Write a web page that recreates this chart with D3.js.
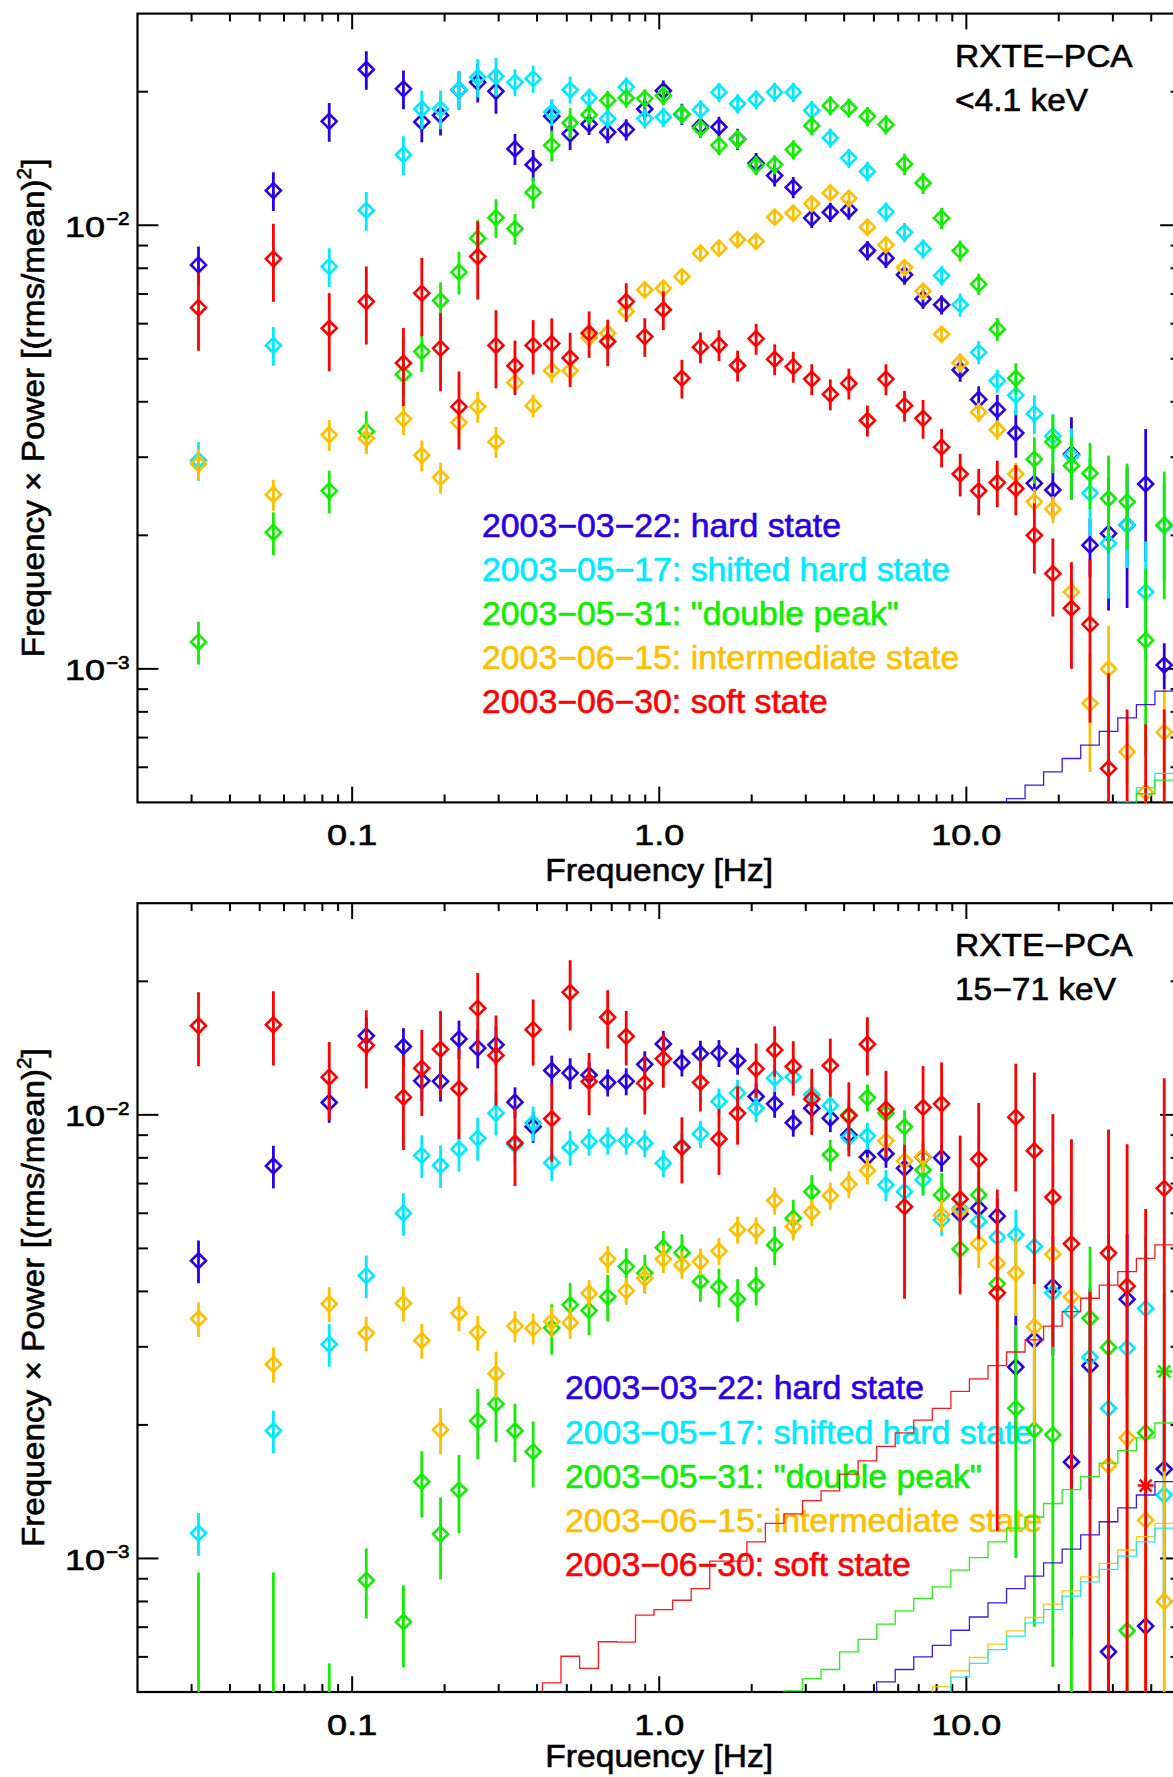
<!DOCTYPE html>
<html>
<head>
<meta charset="utf-8">
<script src="https://cdn.jsdelivr.net/npm/d3@7"></script>
<style>
  body { margin: 0; background: #fff; }
  svg { display: block; }
  text { font-family: "Liberation Sans", Arial, Helvetica, sans-serif; }
</style>
</head>
<body>
<script>
var W = 1173, H = 1777;

// bin frequencies [Hz]
var freq = [0.0316, 0.0554, 0.0842, 0.1112, 0.1469, 0.1686, 0.194, 0.2228, 0.2564, 0.294,
  0.339, 0.3885, 0.4467, 0.5126, 0.591, 0.6794, 0.7806, 0.8973, 1.031, 1.185,
  1.362, 1.565, 1.799, 2.067, 2.376, 2.731, 3.138, 3.606, 4.144, 4.763,
  5.473, 6.29, 7.228, 8.307, 9.546, 10.97, 12.61, 14.49, 16.65, 19.13,
  21.99, 25.27, 29.04, 33.38, 38.36, 44.09];

var labels = ["2003\u221203\u221222: hard state", "2003\u221205\u221217: shifted hard state",
  "2003\u221205\u221231: \"double peak\"", "2003\u221206\u221215: intermediate state",
  "2003\u221206\u221230: soft state"];
var colors = ["#2a00e6", "#00eaff", "#11ee00", "#ffbf00", "#ff0000"];

var xTicks = [0.1, 1, 10];
var xTickText = ["0.1", "1.0", "10.0"];
var yTicks = [1e-3, 1e-2];
var yTickExp = ["\u22123", "\u22122"];

// ---- <4.1 keV : frequency x power, relative errors
var lowHard = [0.00814,0.01197,0.01715,0.02244,0.0203,0.0171,0.0177,0.0202,0.021,0.02004,
  0.01486,0.01369,0.0176,0.01607,0.0169,0.0162,0.01643,0.01828,0.0201,0.0178,
  0.01671,0.01665,0.01564,0.0138,0.01294,0.01217,0.01038,0.0107,0.01083,0.00877,
  0.00843,0.00773,0.00682,0.00662,0.00472,0.00405,0.00384,0.0034,0.00262,0.00253,
  0.00305,0.0019,0.00202,0.00211,0.00261,0.00102];
var lowHardErr = [0.1,0.1,0.1,0.1,0.1,0.1,0.1,0.1,0.1,0.11,
  0.08,0.08,0.08,0.08,0.055,0.055,0.055,0.055,0.055,0.055,
  0.055,0.055,0.055,0.055,0.055,0.055,0.05,0.05,0.05,0.05,
  0.05,0.05,0.05,0.05,0.06,0.07,0.08,0.12,0.12,0.14,
  0.21,0.15,0.33,0.35,0.33,0.12];

var lowShift = [0.00295,0.00536,0.00807,0.0108,0.01442,0.01828,0.0183,0.0202,0.02156,0.02167,
  0.021,0.0214,0.018,0.0202,0.01936,0.01739,0.0205,0.0174,0.01754,0.0178,
  0.01822,0.01995,0.01879,0.0192,0.01995,0.01995,0.01815,0.01573,0.01417,0.01322,
  0.01072,0.00964,0.00885,0.0077,0.00662,0.00517,0.00446,0.00414,0.00376,0.00335,
  0.00303,0.00249,0.00192,0.00211,0.00149,0.0021];
var lowShiftErr = [0.1,0.1,0.1,0.1,0.1,0.1,0.1,0.1,0.1,0.1,
  0.07,0.07,0.07,0.07,0.05,0.05,0.05,0.05,0.05,0.05,
  0.05,0.05,0.05,0.05,0.05,0.05,0.05,0.05,0.05,0.05,
  0.05,0.05,0.05,0.05,0.06,0.06,0.06,0.1,0.1,0.12,
  0.15,0.2,0.25,0.2,0.3,0.25];

var lowDouble = [0.00115,0.00203,0.00252,0.00343,0.00461,0.00519,0.00676,0.00784,0.00935,0.0104,
  0.00982,0.01186,0.01514,0.017,0.01775,0.01912,0.01936,0.0193,0.0196,0.0178,
  0.01656,0.01514,0.01564,0.01365,0.0137,0.0148,0.01677,0.0186,0.01838,0.0176,
  0.01686,0.01374,0.01245,0.01038,0.00876,0.00737,0.00583,0.00452,0.00297,0.00325,
  0.00287,0.00276,0.00242,0.00238,0.00116,0.00211];
var lowDoubleErr = [0.11,0.11,0.11,0.11,0.1,0.1,0.1,0.11,0.1,0.1,
  0.08,0.08,0.08,0.08,0.05,0.05,0.05,0.05,0.05,0.05,
  0.05,0.05,0.05,0.05,0.05,0.05,0.05,0.05,0.05,0.05,
  0.05,0.055,0.055,0.055,0.055,0.055,0.06,0.08,0.12,0.15,
  0.16,0.17,0.25,0.22,0.45,0.32];

var lowInter = [0.0029,0.00247,0.00337,0.00331,0.00366,0.00303,0.0027,0.00359,0.0039,0.00325,
  0.00442,0.00392,0.0047,0.0047,0.00558,0.00571,0.00639,0.00715,0.00721,0.00766,
  0.00865,0.00888,0.00928,0.0092,0.01043,0.01065,0.01118,0.01183,0.0115,0.0099,
  0.00903,0.00803,0.0071,0.00568,0.0049,0.00379,0.00346,0.00275,0.00238,0.00229,
  0.00149,0.000836,0.001,0.00065,0.000527,0.00072];
var lowInterErr = [0.08,0.08,0.08,0.08,0.08,0.08,0.08,0.08,0.08,0.08,
  0.06,0.06,0.06,0.06,0.04,0.04,0.04,0.04,0.04,0.04,
  0.04,0.04,0.04,0.04,0.04,0.04,0.04,0.04,0.04,0.04,
  0.04,0.04,0.04,0.04,0.05,0.05,0.05,0.06,0.07,0.07,
  0.08,0.3,0.25,0.15,0.06,0.25];

var lowSoft = [0.00652,0.0084,0.00586,0.00673,0.00489,0.00703,0.00528,0.0039,0.0085,0.00536,
  0.00482,0.00536,0.00541,0.00502,0.00571,0.00547,0.00673,0.00561,0.00645,0.00452,
  0.00531,0.00537,0.00483,0.00555,0.00499,0.0048,0.0045,0.00416,0.0044,0.00363,
  0.0045,0.00392,0.00367,0.00316,0.00275,0.00252,0.00263,0.00255,0.002,0.00164,
  0.00137,0.00126,0.000596,0.0003,0.0003,0.0003];
var lowSoftErr = [0.2,0.2,0.2,0.2,0.2,0.2,0.2,0.2,0.2,0.2,
  0.14,0.14,0.14,0.14,0.12,0.12,0.1,0.1,0.1,0.1,
  0.08,0.08,0.08,0.08,0.08,0.08,0.08,0.08,0.08,0.08,
  0.08,0.08,0.1,0.1,0.11,0.12,0.12,0.13,0.18,0.2,
  0.27,0.4,0.64,1.7,1.5,1.7];

// ---- 15-71 keV
var highHard = [0.00469,0.00767,0.01066,0.01507,0.01426,0.01193,0.0119,0.01483,0.01414,0.01438,
  0.01068,0.0094,0.01259,0.01242,0.0123,0.01183,0.0119,0.013,0.01445,0.01312,
  0.01373,0.01378,0.01324,0.011,0.01059,0.0096,0.01035,0.00983,0.00901,0.00803,
  0.00817,0.00758,0.00803,0.008,0.00598,0.00616,0.00591,0.0027,0.00311,0.0041,
  0.00165,0.00272,0.000616,0.00384,0.000704,0.00159];
var highHardErr = [0.11,0.11,0.1,0.1,0.1,0.1,0.1,0.1,0.1,0.1,
  0.08,0.08,0.08,0.08,0.07,0.07,0.07,0.07,0.07,0.07,
  0.07,0.07,0.07,0.07,0.07,0.07,0.07,0.07,0.07,0.07,
  0.07,0.07,0.07,0.07,0.1,0.1,0.1,0.32,0.35,0.3,
  0.6,0.5,0.5,0.4,0.6,0.5];

var highShift = [0.00114,0.00194,0.00304,0.00434,0.006,0.0081,0.00769,0.00837,0.00886,0.01009,
  0.00856,0.00958,0.0078,0.00844,0.0087,0.00875,0.00875,0.00863,0.00778,0.00848,
  0.00906,0.01072,0.0112,0.01035,0.0121,0.01217,0.0111,0.0105,0.00889,0.00897,
  0.00695,0.00671,0.00714,0.0058,0.00616,0.00575,0.0053,0.00536,0.00505,0.00397,
  0.0036,0.00284,0.00218,0.00298,0.00366,0.00139];
var highShiftErr = [0.11,0.11,0.11,0.11,0.11,0.11,0.11,0.11,0.11,0.11,
  0.09,0.09,0.09,0.09,0.07,0.07,0.07,0.07,0.07,0.07,
  0.07,0.07,0.07,0.07,0.07,0.07,0.07,0.07,0.07,0.07,
  0.08,0.08,0.08,0.08,0.12,0.12,0.12,0.14,0.17,0.25,
  0.3,0.35,0.4,0.4,0.45,0.5];

var highDouble = [0.0003,0.0003,0.0002,0.000893,0.000719,0.00149,0.001135,0.001426,0.002043,0.00223,
  0.00194,0.00174,0.00331,0.00373,0.00362,0.00389,0.00455,0.0044,0.00502,0.00489,
  0.00421,0.00409,0.00384,0.00413,0.00509,0.00585,0.00671,0.00813,0.01,0.01094,
  0.01009,0.0094,0.00751,0.0066,0.00498,0.0066,0.00416,0.00218,0.00195,0.0019,
  0.0004,0.00348,0.00299,0.000687,0.00192,0.00264];
var highDoubleErr = [2.1,2.1,1.9,0.18,0.21,0.17,0.21,0.2,0.18,0.18,
  0.15,0.17,0.13,0.12,0.12,0.12,0.1,0.1,0.09,0.1,
  0.1,0.1,0.11,0.1,0.1,0.1,0.09,0.08,0.07,0.07,
  0.08,0.09,0.12,0.12,0.13,0.13,0.2,0.54,0.64,0.7,
  2.6,0.45,0.8,0.5,0.6,0.5];

var highInter = [0.00347,0.00274,0.00375,0.00322,0.00376,0.0031,0.00195,0.00357,0.00323,0.00261,
  0.00334,0.0033,0.00342,0.0034,0.00396,0.00473,0.00401,0.00428,0.00473,0.00459,
  0.00467,0.00493,0.00551,0.00549,0.00641,0.0056,0.00603,0.00657,0.00698,0.00749,
  0.00874,0.00787,0.00805,0.00595,0.0061,0.00513,0.00463,0.0044,0.00333,0.00485,
  0.00389,null,0.00162,0.00187,0.00122,0.0008];
var highInterErr = [0.09,0.09,0.09,0.09,0.09,0.09,0.12,0.09,0.09,0.12,
  0.08,0.08,0.08,0.08,0.07,0.07,0.07,0.07,0.07,0.07,
  0.07,0.07,0.07,0.07,0.07,0.07,0.07,0.07,0.07,0.07,
  0.08,0.08,0.08,0.08,0.12,0.12,0.12,0.2,0.4,0.3,
  0.3,0,0.5,0.5,0.6,1.1];

var highSoft = [0.01588,0.01596,0.01216,0.01434,0.01096,0.01274,0.01406,0.01145,0.0174,0.01361,
  0.00864,0.01556,0.0098,0.0189,0.01189,0.0166,0.01503,0.01179,0.01338,0.00844,
  0.01183,0.00882,0.01008,0.0127,0.01401,0.01285,0.01086,0.01292,0.00995,0.01443,
  0.0103,0.00621,0.01039,0.01059,0.00646,0.00794,0.00397,0.00988,0.0083,0.00652,
  0.00512,0.0003,0.00488,0.00411,0.00146,0.00683];
var highSoftErr = [0.19,0.19,0.2,0.2,0.24,0.22,0.22,0.23,0.2,0.23,
  0.2,0.17,0.2,0.18,0.16,0.15,0.14,0.15,0.14,0.17,
  0.14,0.17,0.15,0.14,0.13,0.14,0.17,0.15,0.19,0.15,
  0.22,0.38,0.24,0.24,0.39,0.34,0.71,0.32,0.5,0.54,
  0.72,12.3,0.9,1.09,3.2,0.77];

// points drawn as asterisks in the 15-71 keV panel: [series, bin]
var highStars = [[4, 44], [2, 45]];

// noise levels (histogram steps): first bin index, then values
var lowNoiseHardFrom = 36;
var lowNoiseHard = [0.00049,0.00051,0.000547,0.000586,0.000628,0.000673,0.000723,0.000775,0.000831,0.000891];
var lowNoiseShiftFrom = 42;
var lowNoiseShift = [0.00049,0.000501,0.00054,0.000581];
var lowNoiseDoubleFrom = 43;
var lowNoiseDouble = [0.00049,0.000523,0.000561];

var highNoiseSoftFrom = 11;
var highNoiseSoft = [0.00049,0.000524,0.000602,0.000565,0.000649,0.000648,0.000745,0.000767,0.000805,0.000855,
  0.000986,0.000986,0.00109,0.0012,0.00126,0.00135,0.00142,0.00155,0.00166,0.00179,
  0.00192,0.00205,0.00218,0.00238,0.00254,0.00272,0.00292,0.00311,0.00334,0.0036,
  0.00386,0.00413,0.00443,0.00475,0.00509];
var highNoiseDoubleFrom = 24;
var highNoiseDouble = [0.00049,0.000503,0.000536,0.000562,0.000616,0.000657,0.000711,0.000762,0.000813,0.000863,
  0.000941,0.001004,0.00109,0.00117,0.00124,0.00133,0.00143,0.00153,0.00164,0.00175,
  0.00187,0.00202];
var highNoiseHardFrom = 29;
var highNoiseHard = [0.00049,0.000527,0.000562,0.0006,0.000637,0.000689,0.000738,0.000794,0.000855,0.000912,
  0.000977,0.00105,0.00113,0.00121,0.0013,0.00139,0.00149];
var highNoiseInterFrom = 32;
var highNoiseInter = [0.00049,0.000514,0.000558,0.000598,0.000641,0.000687,0.000736,0.000789,0.000845,0.000909,
  0.000975,0.001045,0.00112,0.0012];
var highNoiseShiftFrom = 33;
var highNoiseShift = [0.00049,0.00054,0.00058,0.000623,0.000668,0.000716,0.000767,0.000822,0.000886,0.000945,
  0.001012,0.00109,0.00117];

var svg = d3.select("body").append("svg").attr("width", W).attr("height", H);

var x = d3.scaleLog().domain([0.02, 50]).range([137.5, 1181]);
var xMinor = [0.03,0.04,0.05,0.06,0.07,0.08,0.09,0.2,0.3,0.4,0.5,0.6,0.7,0.8,0.9,
  2,3,4,5,6,7,8,9,20,30,40];
var yMinor = [6e-4,7e-4,8e-4,9e-4,2e-3,3e-3,4e-3,5e-3,6e-3,7e-3,8e-3,9e-3,2e-2];

// stretch text horizontally and thicken it a little (the original fonts are wide and heavy)
function stretch(sel, k) {
  sel.each(function() {
    var t = d3.select(this);
    var w = this.getComputedTextLength();
    t.attr("textLength", w * k).attr("lengthAdjust", "spacingAndGlyphs")
      .attr("stroke", t.attr("fill") || "#000").attr("stroke-width", 0.6);
  });
}

function drawPanel(p) {
  var left = x.range()[0], right = x.range()[1];
  var y = d3.scaleLog().domain([5e-4, 3e-2]).range([p.bottom, p.top]);
  var g = svg.append("g");

  g.append("clipPath").attr("id", p.id).append("rect")
    .attr("x", left).attr("y", p.top).attr("width", right - left).attr("height", p.bottom - p.top);

  // frame + ticks
  g.append("rect").attr("x", left).attr("y", p.top)
    .attr("width", right - left).attr("height", p.bottom - p.top)
    .attr("fill", "none").attr("stroke", "#000").attr("stroke-width", 2.2);

  var tl = g.append("g").attr("stroke", "#000").attr("stroke-width", 2);
  var hx = (p.bottom - p.top) * 0.02, hy = (right - left) * 0.02;
  xTicks.concat(xMinor).forEach(function(v) {
    var len = xTicks.indexOf(v) >= 0 ? hx : hx / 2;
    tl.append("line").attr("x1", x(v)).attr("x2", x(v)).attr("y1", p.bottom).attr("y2", p.bottom - len);
    tl.append("line").attr("x1", x(v)).attr("x2", x(v)).attr("y1", p.top).attr("y2", p.top + len);
  });
  yTicks.concat(yMinor).forEach(function(v) {
    var len = yTicks.indexOf(v) >= 0 ? hy : hy / 2;
    tl.append("line").attr("y1", y(v)).attr("y2", y(v)).attr("x1", left).attr("x2", left + len);
    tl.append("line").attr("y1", y(v)).attr("y2", y(v)).attr("x1", right).attr("x2", right - len);
  });

  // tick labels
  xTicks.forEach(function(v, i) {
    g.append("text").attr("x", x(v)).attr("y", p.bottom + 43)
      .attr("text-anchor", "middle").attr("font-size", 30).text(xTickText[i])
      .call(stretch, 1.2);
  });
  yTicks.forEach(function(v, i) {
    g.append("text").attr("x", 105).attr("y", y(v) + 11.5)
      .attr("text-anchor", "end").attr("font-size", 30).text("10").call(stretch, 1.2);
    g.append("text").attr("x", 106).attr("y", y(v))
      .attr("font-size", 18).text(yTickExp[i]).call(stretch, 1.15);
  });

  // axis titles
  g.append("text").attr("x", (left + right) / 2).attr("y", p.titleY)
    .attr("text-anchor", "middle").attr("font-size", 32).text("Frequency [Hz]")
    .call(stretch, 1.05);
  var yt = g.append("text")
    .attr("transform", "translate(44," + ((p.top + p.bottom) / 2) + ") rotate(-90)")
    .attr("text-anchor", "middle").attr("font-size", 32);
  yt.append("tspan").text("Frequency \u00d7 Power [(rms/mean)");
  yt.append("tspan").attr("font-size", 20).attr("dy", -13).text("2");
  yt.append("tspan").attr("dy", 13).text("]");
  yt.call(stretch, 1.04);

  // instrument / band
  g.append("text").attr("x", 955).attr("y", p.top + 53).attr("font-size", 31).text("RXTE\u2212PCA").call(stretch, 1.08);
  g.append("text").attr("x", 955).attr("y", p.top + 97).attr("font-size", 31).text(p.band).call(stretch, 1.08);

  // legend
  labels.forEach(function(t, k) {
    g.append("text").attr("x", p.legX).attr("y", p.legY + k * 44.2)
      .attr("font-size", 32.5).attr("fill", colors[k]).text(t).call(stretch, 1.04);
  });

  // data
  var dg = g.append("g").attr("clip-path", "url(#" + p.id + ")");
  p.series.forEach(function(s, k) {
    var pts = [];
    freq.forEach(function(f, i) {
      if (s[0][i] != null) pts.push({ f: f, v: s[0][i], e: s[1][i], i: i });
    });
    var sg = dg.append("g").attr("stroke", colors[k]).attr("fill", "none");
    sg.selectAll("line").data(pts).enter().append("line")
      .attr("x1", function(d) { return x(d.f); })
      .attr("x2", function(d) { return x(d.f); })
      .attr("y1", function(d) { return y(d.v * (1 + d.e)); })
      .attr("y2", function(d) { return d.e >= 1 ? p.bottom + 5 : y(d.v * (1 - d.e)); })
      .attr("stroke-width", 2.8);
    var isStar = function(d) {
      return p.stars.some(function(st) { return st[0] === k && st[1] === d.i; });
    };
    sg.selectAll("path.dm").data(pts.filter(function(d) { return !isStar(d); }))
      .enter().append("path").attr("class", "dm")
      .attr("stroke-width", 2.6)
      .attr("d", function(d) {
        var cx = x(d.f), cy = y(d.v), r = 7.5;
        return "M" + cx + "," + (cy - r) + "L" + (cx + r) + "," + cy + "L" + cx + "," + (cy + r) + "L" + (cx - r) + "," + cy + "Z";
      });
    sg.selectAll("path.st").data(pts.filter(isStar))
      .enter().append("path").attr("class", "st")
      .attr("stroke-width", 2.6)
      .attr("d", function(d) {
        var cx = x(d.f), cy = y(d.v), r = 8, q = 6;
        return "M" + cx + "," + (cy - r) + "L" + cx + "," + (cy + r) +
          "M" + (cx - r) + "," + cy + "L" + (cx + r) + "," + cy +
          "M" + (cx - q) + "," + (cy - q) + "L" + (cx + q) + "," + (cy + q) +
          "M" + (cx - q) + "," + (cy + q) + "L" + (cx + q) + "," + (cy - q);
      });
  });

  // noise level steps
  var line = d3.line();
  p.noise.forEach(function(n) {
    var pts = [];
    n[2].forEach(function(v, j) {
      var i = n[1] + j, f = freq[i];
      var lo = Math.sqrt(freq[i - 1] * f);
      var hi = i < freq.length - 1 ? Math.sqrt(f * freq[i + 1]) : f * Math.sqrt(f / freq[i - 1]);
      pts.push([x(lo), y(v)], [x(hi), y(v)]);
    });
    dg.append("path").attr("d", line(pts)).attr("fill", "none")
      .attr("stroke", colors[n[0]]).attr("stroke-width", 1.3).attr("stroke-opacity", 0.9);
  });
}

drawPanel({
  id: "clipLow", top: 13.6, bottom: 802.4, titleY: 881, band: "<4.1 keV",
  legX: 482, legY: 536.5,
  series: [[lowHard, lowHardErr], [lowShift, lowShiftErr], [lowDouble, lowDoubleErr],
           [lowInter, lowInterErr], [lowSoft, lowSoftErr]],
  stars: [],
  noise: [[0, lowNoiseHardFrom, lowNoiseHard], [1, lowNoiseShiftFrom, lowNoiseShift],
          [2, lowNoiseDoubleFrom, lowNoiseDouble]]
});

drawPanel({
  id: "clipHigh", top: 903.2, bottom: 1692, titleY: 1767, band: "15\u221271 keV",
  legX: 565, legY: 1399.3,
  series: [[highHard, highHardErr], [highShift, highShiftErr], [highDouble, highDoubleErr],
           [highInter, highInterErr], [highSoft, highSoftErr]],
  stars: highStars,
  noise: [[4, highNoiseSoftFrom, highNoiseSoft], [2, highNoiseDoubleFrom, highNoiseDouble],
          [0, highNoiseHardFrom, highNoiseHard], [3, highNoiseInterFrom, highNoiseInter],
          [1, highNoiseShiftFrom, highNoiseShift]]
});
</script>
</body>
</html>
